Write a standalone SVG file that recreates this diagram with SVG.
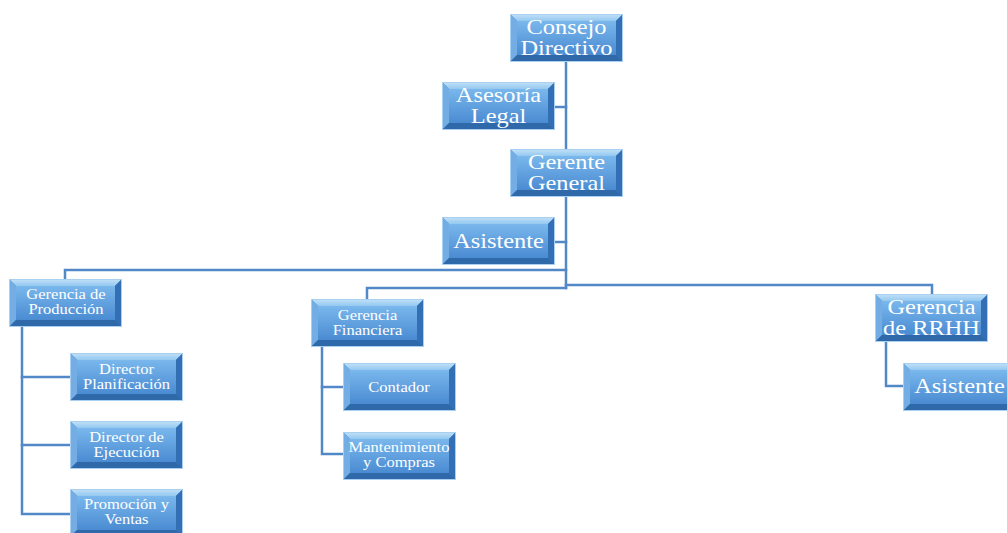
<svg xmlns="http://www.w3.org/2000/svg" xmlns:xlink="http://www.w3.org/1999/xlink" width="1007" height="533" viewBox="0 0 1007 533">
  <style>
    .lbl { font-family: "Liberation Serif", "Times New Roman", serif; fill: #ffffff; text-anchor: middle; }
    .big { font-size: 20px; }
    .small { font-size: 14px; }
    .wire { fill: none; stroke: #5088c8; stroke-width: 2.5; stroke-linecap: square; }
  </style>
  <defs>
    <linearGradient id="face" x1="0" y1="0" x2="0" y2="1">
      <stop offset="0" stop-color="#79b7ec"/>
      <stop offset="1" stop-color="#4a8bd2"/>
    </linearGradient>
    <linearGradient id="topBevel" x1="0" y1="0" x2="0" y2="1">
      <stop offset="0" stop-color="#c4e2f8"/>
      <stop offset="1" stop-color="#93c8f0"/>
    </linearGradient>
    <!-- bevelled blue box, 113 x 48 -->
    <symbol id="box" viewBox="0 0 113 48" width="113" height="48" overflow="visible">
      <rect x="0" y="0" width="113" height="48" fill="#3f7fc4"/>
      <polygon points="0,0 113,0 106,7 7,7" fill="url(#topBevel)"/>
      <polygon points="0,0 7,7 7,41 0,48" fill="#74ade3"/>
      <polygon points="113,0 113,48 106,41 106,7" fill="#336fb4"/>
      <polygon points="0,48 113,48 106,41 7,41" fill="#3069aa"/>
      <rect x="7" y="7" width="99" height="34" fill="url(#face)"/>
      <rect x="0.5" y="0.5" width="112" height="47" fill="none" stroke="#a9d0f0" stroke-width="1"/>
    </symbol>
  </defs>

  <rect width="1007" height="533" fill="#ffffff"/>

  <!-- connectors -->
  <g id="connectors" class="wire">
    <path d="M566 62 V288"/>
    <path d="M555 107 H566"/>
    <path d="M555 242 H566"/>
    <path d="M566 270 H65 V279"/>
    <path d="M566 288 H367 V299"/>
    <path d="M566 285 H932 V294"/>
    <path d="M22 327 V514 H70"/>
    <path d="M22 377 H70"/>
    <path d="M22 445 H70"/>
    <path d="M322 347 V454 H343"/>
    <path d="M322 387 H343"/>
    <path d="M886 342 V386 H903"/>
  </g>

  <!-- nodes -->
  <g id="consejo-directivo">
    <use xlink:href="#box" x="510" y="14"/>
    <text class="lbl big" transform="translate(566.5 0) scale(1.22 1)"><tspan x="0" y="34">Consejo</tspan><tspan x="0" y="55">Directivo</tspan></text>
  </g>
  <g id="asesoria-legal">
    <use xlink:href="#box" x="442" y="82"/>
    <text class="lbl big" transform="translate(498.5 0) scale(1.22 1)"><tspan x="0" y="102">Asesoría</tspan><tspan x="0" y="123">Legal</tspan></text>
  </g>
  <g id="gerente-general">
    <use xlink:href="#box" x="510" y="149"/>
    <text class="lbl big" transform="translate(566.5 0) scale(1.22 1)"><tspan x="0" y="169">Gerente</tspan><tspan x="0" y="190">General</tspan></text>
  </g>
  <g id="asistente-general">
    <use xlink:href="#box" x="442" y="217"/>
    <text class="lbl big" x="0" y="248" transform="translate(498.5 0) scale(1.22 1)">Asistente</text>
  </g>

  <g id="gerencia-produccion">
    <use xlink:href="#box" x="9" y="279"/>
    <text class="lbl small" transform="translate(66 0) scale(1.18 1)"><tspan x="0" y="299">Gerencia de</tspan><tspan x="0" y="314">Producción</tspan></text>
  </g>
  <g id="director-planificacion">
    <use xlink:href="#box" x="70" y="353"/>
    <text class="lbl small" transform="translate(126.5 0) scale(1.18 1)"><tspan x="0" y="374">Director</tspan><tspan x="0" y="389">Planificación</tspan></text>
  </g>
  <g id="director-ejecucion">
    <use xlink:href="#box" x="70" y="421"/>
    <text class="lbl small" transform="translate(126.5 0) scale(1.18 1)"><tspan x="0" y="442">Director de</tspan><tspan x="0" y="457">Ejecución</tspan></text>
  </g>
  <g id="promocion-ventas">
    <use xlink:href="#box" x="70" y="489"/>
    <text class="lbl small" transform="translate(126.5 0) scale(1.18 1)"><tspan x="0" y="509">Promoción y</tspan><tspan x="0" y="524">Ventas</tspan></text>
  </g>

  <g id="gerencia-financiera">
    <use xlink:href="#box" x="311" y="299"/>
    <text class="lbl small" transform="translate(367.5 0) scale(1.18 1)"><tspan x="0" y="320">Gerencia</tspan><tspan x="0" y="335">Financiera</tspan></text>
  </g>
  <g id="contador">
    <use xlink:href="#box" x="343" y="363"/>
    <text class="lbl small" x="0" y="392" transform="translate(399 0) scale(1.18 1)">Contador</text>
  </g>
  <g id="mantenimiento-compras">
    <use xlink:href="#box" x="343" y="432"/>
    <text class="lbl small" transform="translate(399 0) scale(1.18 1)"><tspan x="0" y="452">Mantenimiento</tspan><tspan x="0" y="467">y Compras</tspan></text>
  </g>

  <g id="gerencia-rrhh">
    <use xlink:href="#box" x="875" y="294"/>
    <text class="lbl big" transform="translate(931.5 0) scale(1.22 1)"><tspan x="0" y="314">Gerencia</tspan><tspan x="0" y="335">de RRHH</tspan></text>
  </g>
  <g id="asistente-rrhh">
    <use xlink:href="#box" x="903" y="363"/>
    <text class="lbl big" x="0" y="393" transform="translate(959.5 0) scale(1.22 1)">Asistente</text>
  </g>
</svg>
